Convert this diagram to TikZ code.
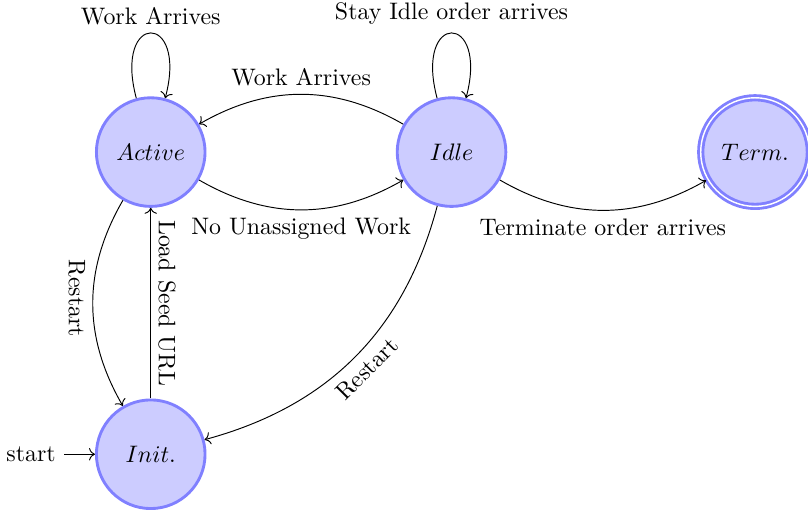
\documentclass[tikz,border=0pt]{standalone}
\usepackage{tikz}
\usetikzlibrary{automata, positioning, arrows.meta}

\begin{document}
\begin{tikzpicture}[
  every state/.style={
    circle, draw=blue!50, fill=blue!20, very thick,
    minimum size=1.6cm, inner sep=0pt
  },
  initial text=start,
  arr/.style={->, thin},
  vlabel/.style={rotate=-90, inner sep=3pt}
]
\useasboundingbox (-2.22,-0.82) rectangle (9.68,6.69);

%% ═══════════════════════════════════════════════
%% Estados
%% ═══════════════════════════════════════════════
\node[state, initial] (init) at (0, 0) {$Init.$};
\node[state] (active) at (0, 4.45) {$Active$};
\node[state] (idle) at (4.43, 4.45) {$Idle$};
\node[state, accepting] (term) at (8.9, 4.45) {$Term.$};

%% ── Transiciones ───────────────────────────────────────────────────────────

%% Active -> Active
\draw[arr] (active) to[loop above] node[above] {Work Arrives} (active);

%% Idle -> Idle
\draw[arr] (idle) to[loop above] node[above] {Stay Idle order arrives} (idle);

%% Idle -> Active
\draw[arr] (idle) to[bend right=30] node[above] {Work Arrives} (active);

%% Active -> Idle
\draw[arr] (active) to[bend right=30] node[below] {No Unassigned Work} (idle);

%% Idle -> Term
\draw[arr] (idle) to[bend right=30] node[below] {Terminate order arrives} (term);

%% Active -> Init (reinicio)
\draw[arr] (active) to[bend right=30] node[vlabel, anchor=north, xshift=-2pt] {Restart} (init);

%% Init -> Active
\draw[arr] (init) -- node[vlabel, anchor=south] {Load Seed URL} (active);

%% Idle -> Init (reinicio)
\draw[arr] (idle) to[bend left=30] node[sloped, below] {Restart} (init);

\end{tikzpicture}
\end{document}
